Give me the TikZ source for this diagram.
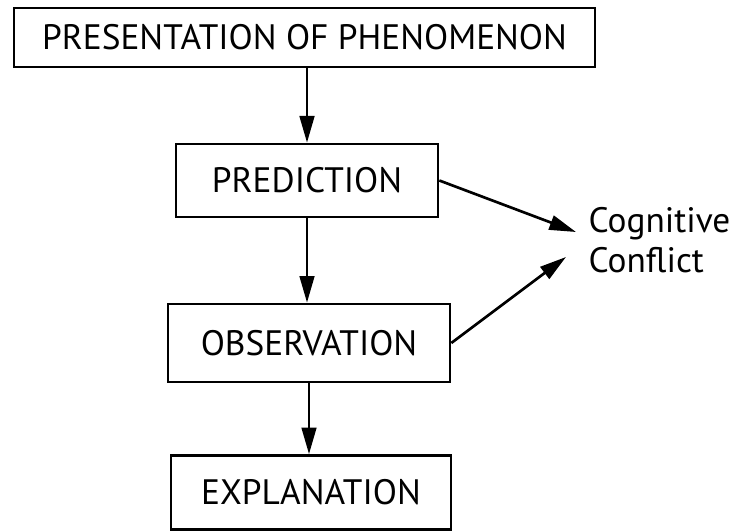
\documentclass[tikz,border=0pt]{standalone}
\usepackage{fontspec}
\setmainfont{PT Sans}
\usetikzlibrary{arrows.meta, positioning}

\begin{document}
\begin{tikzpicture}[
  x=0.75pt, y=-0.75pt,
  stage/.style={rectangle,draw,line width=2pt,align=center,inner sep=0pt,font=\fontsize{26.5}{30}\selectfont},
  flow/.style={-{Triangle[length=20pt,width=11pt]},line width=2pt}
]
\useasboundingbox (0,0) rectangle (730,531);

\node[stage,minimum width=435.75pt,minimum height=44.25pt] (phen) at (304.5,37.5) {PRESENTATION OF PHENOMENON};
\node[stage,minimum width=196.5pt,minimum height=54.75pt] (pred) at (307,180.5) {PREDICTION};
\node[stage,minimum width=211.5pt,minimum height=58.5pt] (obs) at (309,343) {OBSERVATION};
\node[stage,minimum width=210pt,minimum height=55.5pt] (expl) at (311,492.5) {EXPLANATION};

\node[anchor=west,align=left,font=\fontsize{26.5}{30}\selectfont] (conflict) at (584,240) {Cognitive\\Conflict};
\coordinate (hitpred) at (576,232);
\coordinate (hitobs) at (566,257);

\draw[flow] (pred.north |- phen.south) -- (pred.north);
\draw[flow] (pred.south) -- (pred.south |- obs.north);
\draw[flow] (obs.south) -- (obs.south |- expl.north);
\draw[flow] (pred.east) -- (hitpred);
\draw[flow] (obs.east) -- (hitobs);

\end{tikzpicture}
\end{document}
